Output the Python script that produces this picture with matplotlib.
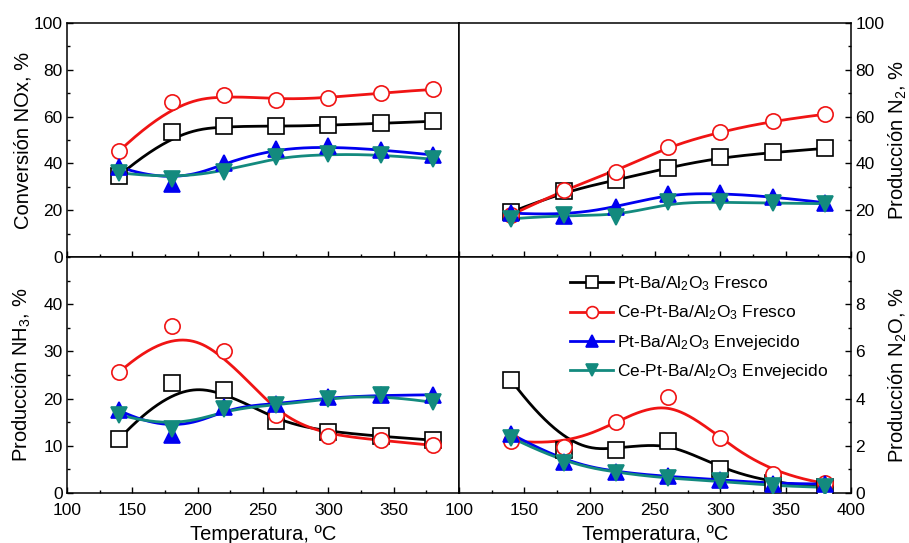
import numpy as np
import matplotlib.pyplot as plt
from matplotlib.ticker import MultipleLocator
from matplotlib.lines import Line2D

plt.rcParams['font.family'] = ['Liberation Sans', 'DejaVu Sans']
plt.rcParams['mathtext.fontset'] = 'custom'
plt.rcParams['mathtext.rm'] = 'Liberation Sans'
plt.rcParams['mathtext.it'] = 'Liberation Sans'

temp = [140, 180, 220, 260, 300, 340, 380]

# NOx conversion, %
nox_ptba_fresh = [34.8, 53.6, 56.0, 55.8, 56.3, 57.1, 58.0]
nox_ceptba_fresh = [45.3, 66.3, 69.3, 67.3, 67.9, 70.2, 71.6]
nox_ptba_aged = [38.5, 31.0, 40.3, 46.2, 47.3, 45.9, 43.6]
nox_ceptba_aged = [36.0, 33.5, 36.5, 42.6, 44.0, 43.8, 41.8]

# N2 production, %
n2_ptba_fresh = [19.2, 28.0, 32.7, 38.2, 42.6, 44.7, 46.4]
n2_ceptba_fresh = [18.0, 28.7, 36.5, 47.2, 53.6, 58.2, 61.0]
n2_ptba_aged = [18.8, 17.6, 21.2, 27.0, 27.3, 25.8, 23.2]
n2_ceptba_aged = [16.3, 18.0, 17.0, 23.3, 23.5, 23.0, 22.8]

# NH3 production, %
nh3_ptba_fresh = [11.5, 23.2, 21.9, 15.2, 12.9, 12.0, 11.2]
nh3_ceptba_fresh = [25.6, 35.4, 30.1, 16.5, 12.0, 11.2, 10.1]
nh3_ptba_aged = [17.5, 12.2, 18.3, 18.8, 20.3, 20.7, 20.8]
nh3_ceptba_aged = [16.6, 13.5, 17.8, 18.6, 20.0, 20.8, 19.2]

# N2O production, %
n2o_ptba_fresh = [4.77, 1.83, 1.83, 2.22, 1.00, 0.41, 0.24]
n2o_ceptba_fresh = [2.22, 1.97, 2.99, 4.05, 2.32, 0.79, 0.41]
n2o_ptba_aged = [2.50, 1.30, 0.88, 0.70, 0.56, 0.40, 0.38]
n2o_ceptba_aged = [2.35, 1.26, 0.86, 0.62, 0.50, 0.30, 0.24]

labels = ['Pt-Ba/Al$_2$O$_3$ Fresco', 'Ce-Pt-Ba/Al$_2$O$_3$ Fresco',
          'Pt-Ba/Al$_2$O$_3$ Envejecido', 'Ce-Pt-Ba/Al$_2$O$_3$ Envejecido']
colors = ['black', '#f01414', '#0000f0', '#138a7e']
markers = ['s', 'o', '^', 'v']
faces = ['white', 'white', '#0000f0', '#138a7e']


def bspline(x, y, n=300, k=3):
    # clamped cubic B-spline using the measured points as control points
    P = np.column_stack([x, y]).astype(float)
    m = len(P)
    knots = np.concatenate([np.zeros(k), np.arange(m - k + 1), np.full(k, m - k)]).astype(float)
    t = np.linspace(0, m - k, n)

    def basis(i, d):
        if d == 0:
            b = ((knots[i] <= t) & (t < knots[i + 1])).astype(float)
            if knots[i + 1] == knots[-1] and knots[i] < knots[i + 1]:
                b[t == knots[-1]] = 1.0
            return b
        out = np.zeros_like(t)
        den = knots[i + d] - knots[i]
        if den > 0:
            out += (t - knots[i]) / den * basis(i, d - 1)
        den = knots[i + d + 1] - knots[i + 1]
        if den > 0:
            out += (knots[i + d + 1] - t) / den * basis(i + 1, d - 1)
        return out

    B = np.array([basis(i, k) for i in range(m)])
    curve = B.T @ P
    return curve[:, 0], curve[:, 1]


def draw(ax, series):
    for s, c, mk, fc in zip(series, colors, markers, faces):
        xs, ys = bspline(temp, s)
        ax.plot(xs, ys, color=c, lw=2.0, zorder=2)
        ax.plot(temp, s, ls='none', marker=mk, ms=11, mfc=fc, mec=c,
                mew=1.2, zorder=3)


fig = plt.figure(figsize=(9.09, 5.43), dpi=100)
x0, xm, x1 = 67 / 909, 459 / 909, 851 / 909
y0, ym, y1 = 1 - 493 / 543, 1 - 257 / 543, 1 - 23 / 543
w = xm - x0
h = y1 - ym

ax_nox = fig.add_axes([x0, ym, w, h])
ax_n2 = fig.add_axes([xm, ym, w, h])
ax_nh3 = fig.add_axes([x0, y0, w, ym - y0])
ax_n2o = fig.add_axes([xm, y0, w, ym - y0])

draw(ax_nox, [nox_ptba_fresh, nox_ceptba_fresh, nox_ptba_aged, nox_ceptba_aged])
draw(ax_n2, [n2_ptba_fresh, n2_ceptba_fresh, n2_ptba_aged, n2_ceptba_aged])
draw(ax_nh3, [nh3_ptba_fresh, nh3_ceptba_fresh, nh3_ptba_aged, nh3_ceptba_aged])
draw(ax_n2o, [n2o_ptba_fresh, n2o_ceptba_fresh, n2o_ptba_aged, n2o_ceptba_aged])

fs_tick = 12.5
fs_lab = 14.5

for ax in [ax_nox, ax_n2, ax_nh3, ax_n2o]:
    ax.set_xlim(100, 400)
    ax.xaxis.set_major_locator(MultipleLocator(50))
    ax.xaxis.set_minor_locator(MultipleLocator(25))
    for sp in ax.spines.values():
        sp.set_linewidth(1.1)
    ax.tick_params(which='both', direction='in', top=False, labelsize=fs_tick,
                   width=1.0)
    ax.tick_params(which='major', length=4)
    ax.tick_params(which='minor', length=2.5)
    ax.tick_params(axis='x', pad=7)
    ax.tick_params(axis='y', pad=3)

for ax in [ax_nox, ax_n2]:
    ax.set_ylim(0, 100)
    ax.yaxis.set_major_locator(MultipleLocator(20))
    ax.yaxis.set_minor_locator(MultipleLocator(10))
    ax.tick_params(axis='x', labelbottom=False)

ax_nh3.set_ylim(0, 50)
ax_nh3.set_yticks([0, 10, 20, 30, 40])
ax_nh3.yaxis.set_minor_locator(MultipleLocator(5))
ax_n2o.set_ylim(0, 10)
ax_n2o.set_yticks([0, 2, 4, 6, 8])
ax_n2o.yaxis.set_minor_locator(MultipleLocator(1))

ax_nh3.set_xticks([100, 150, 200, 250, 300, 350])
ax_nh3.set_xlim(100, 400)

for ax in [ax_n2, ax_n2o]:
    ax.yaxis.tick_right()
    ax.yaxis.set_label_position('right')
    ax.tick_params(axis='y', which='both', left=False, right=True)

ax_nox.set_ylabel('Conversión NOx, %', fontsize=fs_lab)
ax_n2.set_ylabel('Producción N$_2$, %', fontsize=fs_lab)
ax_nh3.set_ylabel('Producción NH$_3$, %', fontsize=fs_lab)
ax_n2o.set_ylabel('Producción N$_2$O, %', fontsize=fs_lab)
for ax in [ax_nox, ax_nh3]:
    ax.yaxis.set_label_coords(-0.088, 0.5)
for ax in [ax_n2, ax_n2o]:
    ax.yaxis.set_label_coords(1.09, 0.5)

ax_nh3.set_xlabel('Temperatura, ºC', fontsize=fs_lab, labelpad=5)
ax_n2o.set_xlabel('Temperatura, ºC', fontsize=fs_lab, labelpad=5)

handles = [Line2D([], [], color=c, lw=2.0, marker=mk, ms=8.5, mfc=fc, mec=c, mew=1.2)
           for c, mk, fc in zip(colors, markers, faces)]
ax_n2o.legend(handles, labels, loc='upper left', bbox_to_anchor=(0.265, 0.955),
              frameon=False, fontsize=12.5, handlelength=2.5, handletextpad=0.2,
              labelspacing=0.6, borderaxespad=0)

fig.savefig('out.png', dpi=100)
